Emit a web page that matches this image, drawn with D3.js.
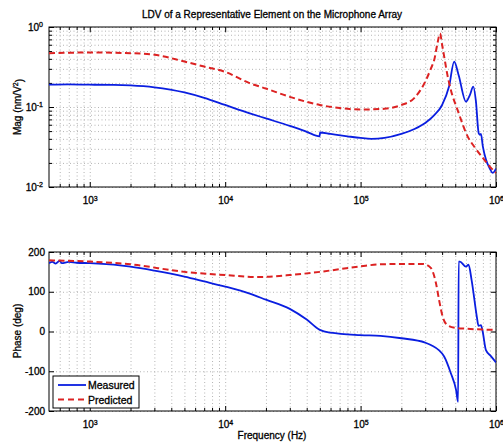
<!DOCTYPE html>
<html>
<head>
<meta charset="utf-8">
<style>
body { margin: 0; background: #fff; }
text { font-family: "Liberation Sans", Arial, sans-serif; fill: #000; }
</style>
</head>
<body>
<script src="https://d3js.org/d3.v7.min.js"></script>
<script>
var width = 503, height = 443;

// axes
var freqDomain = [500, 1e6];
var freqMajor = [1e3, 1e4, 1e5, 1e6];
var magDomain = [1e-2, 1];
var magMajor = [1e-2, 1e-1, 1];
var phaseDomain = [-200, 200];
var phaseTicks = [-200, -100, 0, 100, 200];

// magnitude (nm/V^2), measured
var measMagFreq = [500, 700, 1000, 1500, 2000, 3000, 5000, 7000, 10000, 15000, 20000, 30000, 40000, 49800, 50200, 60000, 80000, 100000, 120000, 150000, 200000, 250000, 300000, 350000, 400000, 450000, 491000, 530000, 600000, 640000, 680000, 710000, 745000, 760000, 774000, 800000, 843000, 900000, 945000, 1000000];
var measMag = [0.19, 0.192, 0.19, 0.189, 0.186, 0.176, 0.152, 0.13, 0.106, 0.084, 0.072, 0.058, 0.049, 0.043, 0.048, 0.046, 0.043, 0.041, 0.040, 0.041, 0.046, 0.053, 0.063, 0.079, 0.106, 0.18, 0.37, 0.25, 0.117, 0.14, 0.18, 0.12, 0.047, 0.045, 0.046, 0.032, 0.022, 0.017, 0.015, 0.017];

// magnitude, predicted
var predMagFreq = [500, 1000, 2000, 3000, 5000, 7000, 10000, 15000, 20000, 30000, 50000, 70000, 100000, 150000, 200000, 250000, 300000, 330000, 350000, 370000, 386000, 400000, 414000, 438000, 464000, 520000, 617000, 700000, 818000, 900000, 1000000];
var predMag = [0.47, 0.48, 0.47, 0.45, 0.37, 0.32, 0.275, 0.2, 0.17, 0.134, 0.106, 0.097, 0.093, 0.095, 0.106, 0.13, 0.207, 0.3, 0.39, 0.63, 0.83, 0.6, 0.43, 0.25, 0.163, 0.092, 0.043, 0.031, 0.022, 0.018, 0.015];

// phase (deg), measured
var measPhFreq = [500, 530, 560, 600, 620, 700, 800, 1000, 1500, 2000, 3000, 5000, 7000, 10000, 15000, 20000, 30000, 40000, 50000, 60000, 100000, 140000, 200000, 300000, 330000, 414000, 464000, 507000, 525000, 530000, 541000, 600000, 627000, 660000, 722000, 743000, 774000, 797000, 843000, 917000, 1000000];
var measPh = [172, 175, 171, 178, 172, 175, 173, 172, 168, 163, 153, 138, 126, 113, 96, 80, 57, 30, 4, -3, -9, -11, -17, -28, -34, -63, -105, -147, -177, 176, 176, 163, 168, 130, 37, 14, 16, 0, -47, -62, -78];

// phase, predicted
var predPhFreq = [500, 1000, 2000, 5000, 10000, 17000, 30000, 50000, 100000, 140000, 200000, 290000, 330000, 360000, 380000, 404000, 438000, 505000, 600000, 1000000];
var predPh = [179, 176, 169, 150, 142, 137, 142, 150, 164, 169, 170, 170, 160, 122, 79, 37, 16, 9, 7, 4];

var seriesNames = ["Measured", "Predicted"];
var seriesColors = ["#0a1ee0", "#dc2222"];

var svg = d3.select("body").append("svg")
    .attr("width", width)
    .attr("height", height);

svg.append("rect").attr("width", width).attr("height", height).attr("fill", "#fff");

var left = 49, right = 496;
var x = d3.scaleLog().domain(freqDomain).range([left, right]);
var yMag = d3.scaleLog().domain(magDomain).range([187, 27]);
var yPh = d3.scaleLinear().domain(phaseDomain).range([411, 252]);

function logMinor(lo, hi) {
  var out = [];
  for (var e = -3; e <= 6; e++) {
    for (var m = 2; m <= 9; m++) {
      var v = m * Math.pow(10, e);
      if (v > lo && v < hi) out.push(v);
    }
  }
  return out;
}
var freqMinor = logMinor(freqDomain[0], freqDomain[1]);
var magMinor = logMinor(magDomain[0], magDomain[1]);

function powLabel(sel) {
  sel.selectAll(".tick text").each(function(d) {
    var t = d3.select(this);
    var e = Math.round(Math.log10(d));
    t.text(null);
    t.append("tspan").text("10");
    t.append("tspan").attr("dy", "-0.5em").attr("font-size", "7px").text(String(e));
  });
}

function panel(y, yMajor, yMinor, yGrid, powY) {
  var top = y.range()[1], bottom = y.range()[0];
  var g = svg.append("g");

  // grid
  var grid = g.append("g").attr("class", "grid");
  grid.append("g").attr("transform", "translate(0," + bottom + ")")
      .call(d3.axisBottom(x).tickValues(freqMajor.concat(freqMinor)).tickSize(-(bottom - top)).tickFormat(""));
  grid.append("g").attr("transform", "translate(" + left + ",0)")
      .call(d3.axisLeft(y).tickValues(yGrid).tickSize(-(right - left)).tickFormat(""));
  grid.selectAll(".domain").remove();
  grid.selectAll("line")
      .attr("stroke", "#b4b4b4")
      .attr("stroke-dasharray", "1,2.5");

  // data clip
  var id = "clip" + top;
  svg.append("clipPath").attr("id", id).append("rect")
      .attr("x", left).attr("y", top).attr("width", right - left).attr("height", bottom - top);

  // axes, ticks pointing inside
  var ax = g.append("g").attr("class", "axes");
  var xb = ax.append("g").attr("transform", "translate(0," + bottom + ")")
      .call(d3.axisBottom(x).tickValues(freqMajor).tickSize(-5).tickPadding(10));
  powLabel(xb);
  ax.append("g").attr("transform", "translate(0," + bottom + ")")
      .call(d3.axisBottom(x).tickValues(freqMinor).tickSize(-3).tickFormat(""));
  ax.append("g").attr("transform", "translate(0," + top + ")")
      .call(d3.axisTop(x).tickValues(freqMajor).tickSize(-5).tickFormat(""));
  ax.append("g").attr("transform", "translate(0," + top + ")")
      .call(d3.axisTop(x).tickValues(freqMinor).tickSize(-3).tickFormat(""));

  var yl = ax.append("g").attr("transform", "translate(" + left + ",0)")
      .call(d3.axisLeft(y).tickValues(yMajor).tickSize(-5).tickPadding(powY ? 6 : 4)
        .tickFormat(function(d) { return String(d); }));
  if (powY) powLabel(yl);
  ax.append("g").attr("transform", "translate(" + right + ",0)")
      .call(d3.axisRight(y).tickValues(yMajor).tickSize(-5).tickFormat(""));
  if (yMinor.length) {
    ax.append("g").attr("transform", "translate(" + left + ",0)")
        .call(d3.axisLeft(y).tickValues(yMinor).tickSize(-3).tickFormat(""));
    ax.append("g").attr("transform", "translate(" + right + ",0)")
        .call(d3.axisRight(y).tickValues(yMinor).tickSize(-3).tickFormat(""));
  }
  ax.selectAll(".domain").remove();
  ax.selectAll("line").attr("stroke", "#000");
  ax.selectAll("text").attr("font-size", 10).attr("font-family", "Liberation Sans, Arial, sans-serif")
      .attr("fill", "#000").attr("stroke", "#000").attr("stroke-width", 0.3);

  g.append("rect")
      .attr("x", left).attr("y", top)
      .attr("width", right - left).attr("height", bottom - top)
      .attr("fill", "none").attr("stroke", "#000").attr("stroke-width", 1);

  return "url(#" + id + ")";
}

var clipMag = panel(yMag, magMajor, magMinor, magMajor.concat(magMinor), true);
var clipPh = panel(yPh, phaseTicks, [], phaseTicks, false);

function drawLine(fs, vs, y, clip, i) {
  var line = d3.line()
      .curve(d3.curveMonotoneX)
      .x(function(d) { return x(d[0]); })
      .y(function(d) { return y(d[1]); });
  svg.append("path")
      .datum(d3.zip(fs, vs))
      .attr("clip-path", clip)
      .attr("fill", "none")
      .attr("stroke", seriesColors[i])
      .attr("stroke-width", i === 0 ? 1.8 : 2)
      .attr("stroke-dasharray", i === 0 ? null : "6,3.5")
      .attr("stroke-linejoin", "round")
      .attr("d", line);
}

drawLine(measMagFreq, measMag, yMag, clipMag, 0);
drawLine(predMagFreq, predMag, yMag, clipMag, 1);
drawLine(measPhFreq, measPh, yPh, clipPh, 0);
drawLine(predPhFreq, predPh, yPh, clipPh, 1);

// titles and labels
var labels = svg.append("g")
    .attr("font-size", 10)
    .attr("stroke", "#000")
    .attr("stroke-width", 0.3);

labels.append("text")
    .attr("x", 272).attr("y", 18)
    .attr("text-anchor", "middle")
    .text("LDV of a Representative Element on the Microphone Array");

var magLabel = labels.append("text")
    .attr("transform", "translate(21,107) rotate(-90)")
    .attr("text-anchor", "middle");
magLabel.append("tspan").text("Mag (nm/V");
magLabel.append("tspan").attr("dy", "-0.5em").attr("font-size", "7px").text("2");
magLabel.append("tspan").attr("dy", "0.5em").text(")");

labels.append("text")
    .attr("transform", "translate(21,331) rotate(-90)")
    .attr("text-anchor", "middle")
    .text("Phase (deg)");

labels.append("text")
    .attr("x", 272).attr("y", 439)
    .attr("text-anchor", "middle")
    .text("Frequency (Hz)");

// legend
var legend = svg.append("g");
legend.append("rect")
    .attr("x", 53).attr("y", 376).attr("width", 86).attr("height", 32)
    .attr("fill", "#fff").attr("stroke", "#000");
seriesNames.forEach(function(name, i) {
  var ly = 385 + i * 14.5;
  legend.append("line")
      .attr("x1", 58).attr("x2", 86).attr("y1", ly).attr("y2", ly)
      .attr("stroke", seriesColors[i])
      .attr("stroke-width", i === 0 ? 1.8 : 2)
      .attr("stroke-dasharray", i === 0 ? null : "6,4");
  legend.append("text")
      .attr("x", 88).attr("y", ly + 4)
      .attr("font-size", 10.5)
      .attr("stroke", "#000").attr("stroke-width", 0.3)
      .text(name);
});
</script>
</body>
</html>
